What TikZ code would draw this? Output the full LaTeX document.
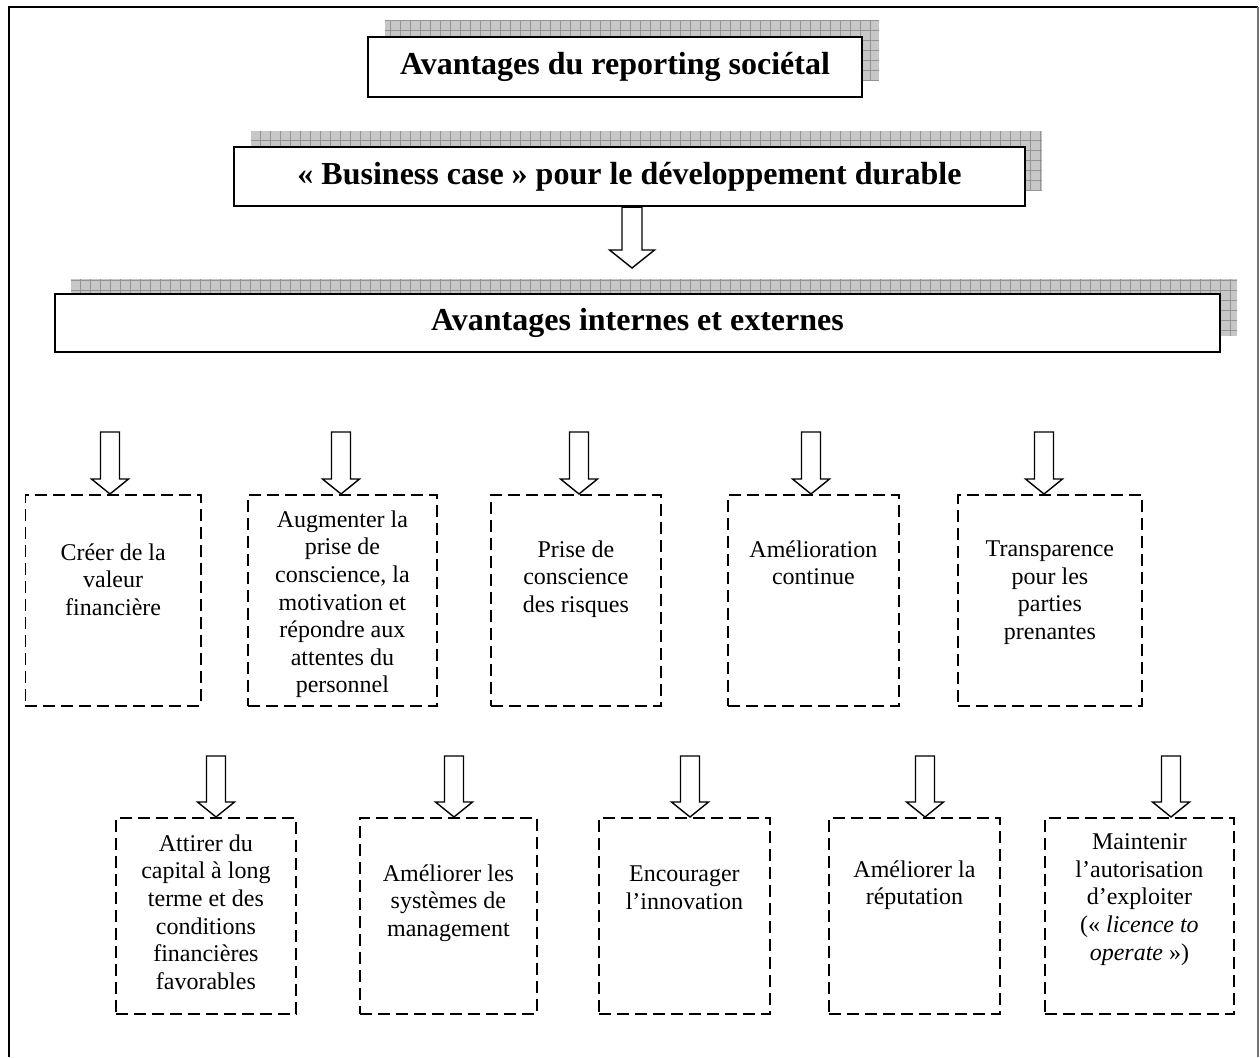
\documentclass[tikz,border=0pt]{standalone}
\usepackage{fontspec}
\setmainfont{Liberation Serif}
\usetikzlibrary{calc}
\tikzset{
  titlebox/.style={draw, line width=2.2pt, fill=white, inner sep=0pt,
    font=\fontsize{32}{38}\selectfont\bfseries},
  dbox/.style={draw, line width=1.8pt, dash pattern=on 12pt off 6pt,
    inner sep=0pt, anchor=north west},
  btext/.style={align=center, inner sep=0pt, anchor=north,
    font=\fontsize{24}{27.6}\selectfont},
  fatarrow/.style args={#1/#2/#3}{draw, line width=1.4pt, fill=white,
    to path={let \p1=(\tikztostart), \p2=(\tikztotarget) in
      (\x1-#1,\y1) -- (\x1+#1,\y1) -- (\x1+#1,\y2+#3) -- (\x1+#2,\y2+#3)
      -- (\x1,\y2) -- (\x1-#2,\y2+#3) -- (\x1-#1,\y2+#3) -- cycle}},
  smallarrow/.style={fatarrow=9.5pt/18.5pt/15pt},
  bigarrow/.style={fatarrow=10pt/22.5pt/18pt},
  shadowfill/.style={fill=black!22},
  shadowgrid/.style={draw=black!42, line width=0.7pt}
}
\newcommand\gridshadow[4]{%
  \fill[shadowfill] (#1,#2) rectangle (#3,#4);
  \begin{scope}
    \clip (#1,#2) rectangle (#3,#4);
    \foreach \gx in {0,10,...,1260} \draw[shadowgrid] (\gx,#2) -- (\gx,#4);
    \foreach \gy in {0,10,...,400} \draw[shadowgrid] (#1,\gy) -- (#3,\gy);
  \end{scope}}
\begin{document}
\begin{tikzpicture}[x=1pt,y=-1pt]
\useasboundingbox (0,0) rectangle (1260,1057);
\fill[white] (0,0) rectangle (1260,1057);
% outer frame
\draw[line width=2pt] (9,1057) -- (9,7) -- (1258,7);
\draw[line width=1.2pt, black!55] (1258,7) -- (1258,1057);

% shadows
\gridshadow{385}{21}{879}{81}
\gridshadow{251}{131}{1042}{190}
\gridshadow{71}{279}{1237}{336}

% title boxes
\node[titlebox, minimum width=494pt, minimum height=60pt] (tA) at (615,67)
  {Avantages du reporting sociétal};
\node[titlebox, minimum width=791pt, minimum height=59pt] (tB) at (629.5,176.5)
  {« Business case » pour le développement durable};
\node[titlebox, minimum width=1165pt, minimum height=58pt] (tC) at (637.5,323)
  {Avantages internes et externes};

% big arrow
\coordinate (tipB) at (632,268);
\draw[bigarrow] (tB.south -| tipB) to (tipB);

% row 1 boxes
\node[dbox, minimum width=175.5pt, minimum height=211pt] (b1) at (24.5,494) {};
\node[dbox, minimum width=189pt, minimum height=211pt] (b2) at (247,494) {};
\node[dbox, minimum width=170pt, minimum height=211pt] (b3) at (490,494) {};
\node[dbox, minimum width=171pt, minimum height=211pt] (b4) at (727,494) {};
\node[dbox, minimum width=184pt, minimum height=211pt] (b5) at (957,494) {};

\path (b1.north) ++(0,49.5) node[btext] (x1) {Créer de la\\valeur\\financière};
\path (b2.north) ++(0,16.5) node[btext] (x2) {Augmenter la\\prise de\\conscience, la\\motivation et\\répondre aux\\attentes du\\personnel};
\path (b3.north) ++(0,46.5) node[btext] (x3) {Prise de\\conscience\\des risques};
\path (b4.north) ++(0,46.5) node[btext] (x4) {Amélioration\\continue};
\path (b5.north) ++(0,46.5) node[btext] (x5) {Transparence\\pour les\\parties\\prenantes};

% row 2 boxes
\node[dbox, minimum width=180pt, minimum height=196pt] (b6) at (115,817) {};
\node[dbox, minimum width=177pt, minimum height=196pt] (b7) at (359,817) {};
\node[dbox, minimum width=171pt, minimum height=196pt] (b8) at (598,817) {};
\node[dbox, minimum width=171pt, minimum height=196pt] (b9) at (828,817) {};
\node[dbox, minimum width=189pt, minimum height=196pt] (b10) at (1044,817) {};

\path (b6.north) ++(0,17.5) node[btext] (x6) {Attirer du\\capital à long\\terme et des\\conditions\\financières\\favorables};
\path (b7.north) ++(0,47.5) node[btext] (x7) {Améliorer les\\systèmes de\\management};
\path (b8.north) ++(0,48.5) node[btext] (x8) {Encourager\\l’innovation};
\path (b9.north) ++(0,43.5) node[btext] (x9) {Améliorer la\\réputation};
\path (b10.north) ++(0,16.5) node[btext] (x10) {Maintenir\\l’autorisation\\d’exploiter\\(« \textit{licence to}\\\textit{operate} »)};

% small arrows
\coordinate (s1) at (110,432);
\coordinate (s2) at (341,432);
\coordinate (s3) at (579,432);
\coordinate (s4) at (811,432);
\coordinate (s5) at (1044,432);
\coordinate (s6) at (216,756);
\coordinate (s7) at (454,756);
\coordinate (s8) at (690,756);
\coordinate (s9) at (925,756);
\coordinate (s10) at (1171,756);
\draw[smallarrow] (s1) to (s1 |- b1.north);
\draw[smallarrow] (s2) to (s2 |- b2.north);
\draw[smallarrow] (s3) to (s3 |- b3.north);
\draw[smallarrow] (s4) to (s4 |- b4.north);
\draw[smallarrow] (s5) to (s5 |- b5.north);
\draw[smallarrow] (s6) to (s6 |- b6.north);
\draw[smallarrow] (s7) to (s7 |- b7.north);
\draw[smallarrow] (s8) to (s8 |- b8.north);
\draw[smallarrow] (s9) to (s9 |- b9.north);
\draw[smallarrow] (s10) to (s10 |- b10.north);
\end{tikzpicture}
\end{document}
